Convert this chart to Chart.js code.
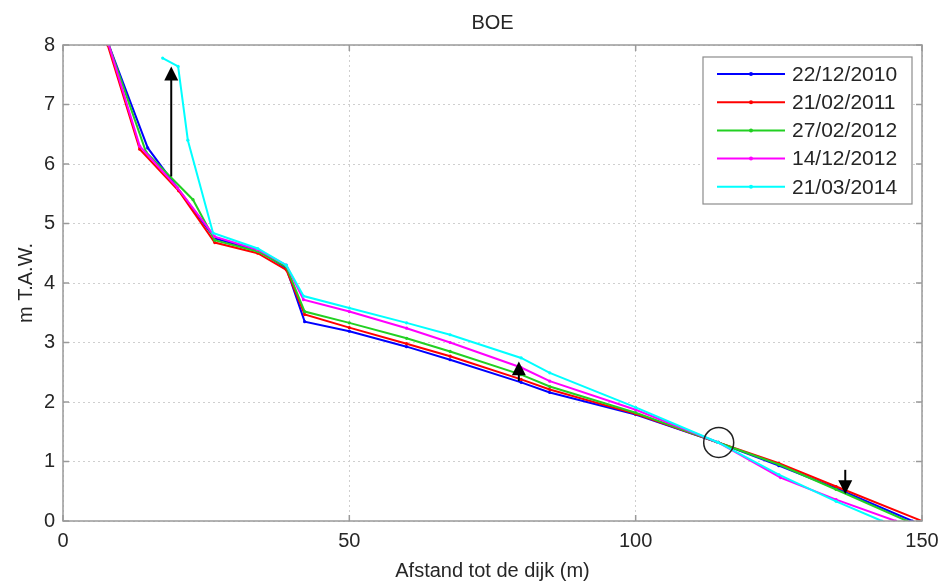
<!DOCTYPE html>
<html>
<head>
<meta charset="utf-8">
<title>BOE</title>
<script src="https://cdn.jsdelivr.net/npm/chart.js@4"></script>
<style>
  html, body { margin: 0; padding: 0; background: #fff; }
  canvas { display: block; }
</style>
</head>
<body>
<canvas id="grafico" width="943" height="582"></canvas>
<script>
// ===== DADOS =====
const titulo = "BOE";
const labelX = "Afstand tot de dijk (m)";
const labelY = "m T.A.W.";
const datas = ["22/12/2010", "21/02/2011", "27/02/2012", "14/12/2012", "21/03/2014"];
const cores = ["#0000ff", "#ff0000", "#22d022", "#ff00ff", "#00ffff"];

// afstand (m) en hoogte (m T.A.W.) per meting
const afstand2010 = [8, 14.8, 26.5, 34, 39, 42.2, 50, 60, 67.6, 80, 85, 100, 114.4, 125, 135, 148.3];
const hoogte2010  = [8, 6.27, 4.75, 4.55, 4.25, 3.35, 3.19, 2.93, 2.71, 2.33, 2.16, 1.79, 1.32, 0.93, 0.55, 0];
const afstand2011 = [7.8, 13.4, 20.2, 26.5, 34, 39, 42.2, 50, 60, 67.6, 80, 85, 100, 114.4, 125, 135, 150];
const hoogte2011  = [8, 6.25, 5.55, 4.68, 4.5, 4.22, 3.47, 3.25, 2.98, 2.77, 2.38, 2.21, 1.8, 1.32, 0.97, 0.58, 0];
const afstand2012a = [8, 14.5, 22.7, 26.5, 34, 39, 42.2, 50, 60, 67.6, 80, 85, 100, 114.4, 125, 135, 147.4];
const hoogte2012a  = [8, 6.2, 5.4, 4.72, 4.53, 4.27, 3.52, 3.33, 3.07, 2.85, 2.46, 2.26, 1.82, 1.32, 0.95, 0.53, 0];
const afstand2012b = [8, 13.4, 20, 26.5, 34, 39, 42, 50, 60, 67.6, 80, 85, 100, 114.4, 125.3, 135, 145.4];
const hoogte2012b  = [8, 6.3, 5.6, 4.78, 4.56, 4.3, 3.72, 3.52, 3.24, 3.0, 2.58, 2.35, 1.87, 1.32, 0.73, 0.36, 0];
const afstand2014 = [17.4, 20.1, 21.8, 26.2, 34, 39, 42, 50, 60, 67.6, 80, 85, 100, 114.4, 125, 135, 143];
const hoogte2014  = [7.78, 7.64, 6.4, 4.84, 4.58, 4.3, 3.78, 3.58, 3.33, 3.13, 2.74, 2.49, 1.91, 1.32, 0.78, 0.33, 0];

const ticksX = [0, 50, 100, 150];
const ticksY = [0, 1, 2, 3, 4, 5, 6, 7, 8];

// pijlen: x, van, tot (in data-eenheden)
const pijlX   = [18.9, 79.6, 136.6];
const pijlVan = [5.79, 2.35, 0.86];
const pijlTot = [7.64, 2.68, 0.45];
const cirkelX = 114.5;
const cirkelY = 1.32;

const series = [
  [afstand2010, hoogte2010],
  [afstand2011, hoogte2011],
  [afstand2012a, hoogte2012a],
  [afstand2012b, hoogte2012b],
  [afstand2014, hoogte2014]
];

const fonte = "'Liberation Sans', Arial, Helvetica, sans-serif";
const corTexto = "#262626";

// ===== PLUGIN: caixa, ticks, titulos, setas e legenda =====
const extras = {
  id: "extras",
  afterDatasetsDraw(chart) {
    const { ctx, scales: { x, y } } = chart;
    ctx.save();
    // setas
    ctx.strokeStyle = "#000";
    ctx.fillStyle = "#000";
    ctx.lineWidth = 2;
    pijlX.forEach((px, i) => {
      const xp = x.getPixelForValue(px);
      const y0 = y.getPixelForValue(pijlVan[i]);
      const y1 = y.getPixelForValue(pijlTot[i]);
      const dir = y1 < y0 ? 1 : -1;
      const cab = Math.min(14, Math.abs(y1 - y0) * 0.7);
      ctx.beginPath();
      ctx.moveTo(xp, y0);
      ctx.lineTo(xp, y1 + dir * cab * 0.8);
      ctx.stroke();
      ctx.beginPath();
      ctx.moveTo(xp, y1);
      ctx.lineTo(xp - 7, y1 + dir * cab);
      ctx.lineTo(xp + 7, y1 + dir * cab);
      ctx.closePath();
      ctx.fill();
    });
    // cirkel
    ctx.lineWidth = 1.5;
    ctx.strokeStyle = "#222";
    ctx.beginPath();
    ctx.arc(x.getPixelForValue(cirkelX), y.getPixelForValue(cirkelY), 15, 0, Math.PI * 2);
    ctx.stroke();
    ctx.restore();
  },
  afterDraw(chart) {
    const { ctx, chartArea: a, scales: { x, y } } = chart;
    ctx.save();
    // caixa
    ctx.strokeStyle = "#9a9a9a";
    ctx.lineWidth = 1.5;
    ctx.strokeRect(a.left, a.top, a.right - a.left, a.bottom - a.top);
    // ticks para dentro
    ticksY.forEach(v => {
      const p = y.getPixelForValue(v);
      ctx.beginPath();
      ctx.moveTo(a.left, p); ctx.lineTo(a.left + 6, p);
      ctx.moveTo(a.right, p); ctx.lineTo(a.right - 6, p);
      ctx.stroke();
    });
    ticksX.forEach(v => {
      const p = x.getPixelForValue(v);
      ctx.beginPath();
      ctx.moveTo(p, a.bottom); ctx.lineTo(p, a.bottom - 6);
      ctx.moveTo(p, a.top); ctx.lineTo(p, a.top + 6);
      ctx.stroke();
    });
    // titulos
    ctx.fillStyle = corTexto;
    ctx.font = "20px " + fonte;
    ctx.textAlign = "center";
    ctx.textBaseline = "alphabetic";
    ctx.fillText(titulo, (a.left + a.right) / 2, 29);
    ctx.fillText(labelX, (a.left + a.right) / 2, 577);
    ctx.translate(32, (a.top + a.bottom) / 2);
    ctx.rotate(-Math.PI / 2);
    ctx.fillText(labelY, 0, 0);
    ctx.restore();

    // legenda
    ctx.save();
    ctx.fillStyle = "#fff";
    ctx.fillRect(703, 57, 209, 147);
    ctx.strokeStyle = "#8c8c8c";
    ctx.lineWidth = 1.2;
    ctx.strokeRect(703, 57, 209, 147);
    ctx.font = "21px " + fonte;
    ctx.textAlign = "left";
    ctx.textBaseline = "middle";
    datas.forEach((d, i) => {
      const ly = 74 + i * 28.2;
      ctx.strokeStyle = cores[i];
      ctx.lineWidth = 2;
      ctx.beginPath();
      ctx.moveTo(717, ly); ctx.lineTo(785, ly);
      ctx.stroke();
      ctx.fillStyle = cores[i];
      ctx.beginPath();
      ctx.arc(751, ly, 2, 0, Math.PI * 2);
      ctx.fill();
      ctx.fillStyle = corTexto;
      ctx.fillText(d, 792, ly + 1);
    });
    ctx.restore();
  }
};

// ===== GRAFICO =====
new Chart(document.getElementById("grafico").getContext("2d"), {
  type: "line",
  data: {
    datasets: series.map((s, i) => ({
      label: datas[i],
      data: s[0].map((v, j) => ({ x: v, y: s[1][j] })),
      borderColor: cores[i],
      backgroundColor: cores[i],
      borderWidth: 2,
      pointRadius: 1.6,
      pointHoverRadius: 1.6,
      pointBorderWidth: 0,
      tension: 0,
      fill: false,
      order: 5 - i
    }))
  },
  options: {
    responsive: false,
    animation: false,
    events: [],
    layout: { padding: { top: 45, right: 21, left: 0, bottom: 0 } },
    plugins: {
      legend: { display: false },
      tooltip: { enabled: false },
      title: { display: false }
    },
    scales: {
      x: {
        type: "linear",
        min: 0, max: 150,
        afterFit: s => { s.height = 61; s.paddingLeft = 0; s.paddingRight = 0; },
        afterBuildTicks: s => { s.ticks = ticksX.map(v => ({ value: v })); },
        border: { display: false, dash: [2, 3] },
        grid: { color: "#cfcfcf", drawTicks: false },
        ticks: { color: corTexto, font: { size: 20, family: fonte }, padding: 8, maxRotation: 0 }
      },
      y: {
        type: "linear",
        min: 0, max: 8,
        afterFit: s => { s.width = 63; s.paddingTop = 0; s.paddingBottom = 0; },
        afterBuildTicks: s => { s.ticks = ticksY.map(v => ({ value: v })); },
        border: { display: false, dash: [2, 3] },
        grid: { color: "#cfcfcf", drawTicks: false },
        ticks: { color: corTexto, font: { size: 20, family: fonte }, padding: 8 }
      }
    }
  },
  plugins: [extras]
});
</script>
</body>
</html>
